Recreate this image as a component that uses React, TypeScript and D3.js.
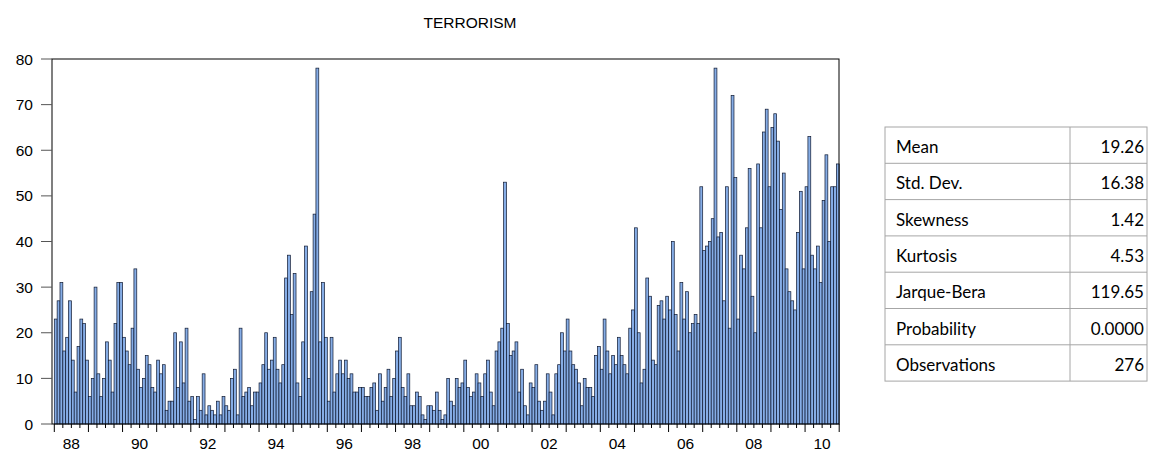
import React from "react";
import * as d3 from "d3";

// Monthly counts, 1988M01 - 2010M12
const counts88to91 = [
  23, 27, 31, 16, 19, 27, 14, 7, 17, 23, 22, 14,
  6, 10, 30, 11, 6, 10, 18, 14, 7, 22, 31, 31,
  19, 16, 13, 21, 34, 12, 8, 10, 15, 13, 8, 7,
  14, 11, 13, 3, 5, 5, 20, 8, 18, 9, 21, 5,
];
const counts92to95 = [
  6, 1, 6, 3, 11, 2, 4, 3, 2, 5, 2, 6,
  4, 3, 10, 12, 2, 21, 6, 7, 8, 4, 7, 7,
  9, 13, 20, 12, 14, 19, 12, 9, 13, 32, 37, 24,
  33, 9, 6, 18, 39, 10, 29, 46, 78, 18, 31, 19,
];
const counts96to99 = [
  5, 19, 7, 11, 14, 11, 14, 10, 11, 7, 7, 8,
  8, 6, 6, 8, 9, 3, 11, 5, 8, 12, 6, 10,
  16, 19, 8, 6, 11, 4, 4, 7, 6, 2, 1, 4,
  4, 3, 7, 3, 1, 2, 10, 5, 4, 10, 8, 9,
];
const counts00to03 = [
  14, 8, 6, 7, 11, 9, 6, 11, 14, 7, 4, 16,
  18, 21, 53, 22, 15, 16, 18, 7, 12, 4, 2, 9,
  8, 13, 5, 3, 5, 11, 7, 2, 11, 13, 20, 16,
  23, 16, 13, 12, 9, 4, 10, 8, 8, 6, 15, 17,
];
const counts04to07 = [
  12, 23, 16, 11, 15, 13, 19, 15, 13, 11, 21, 25,
  43, 20, 9, 12, 32, 28, 14, 13, 26, 27, 23, 28,
  25, 40, 24, 16, 31, 23, 29, 20, 22, 24, 22, 52,
  38, 39, 40, 45, 78, 41, 42, 27, 52, 21, 72, 54,
];
const counts08to10 = [
  23, 37, 34, 43, 56, 28, 20, 57, 43, 64, 69, 52,
  65, 68, 62, 47, 55, 34, 29, 27, 25, 42, 51, 34,
  52, 63, 37, 34, 39, 31, 49, 59, 40, 52, 52, 57,
];

const monthly = [
  ...counts88to91,
  ...counts92to95,
  ...counts96to99,
  ...counts00to03,
  ...counts04to07,
  ...counts08to10,
];

const yearLabels = ["88", "90", "92", "94", "96", "98", "00", "02", "04", "06", "08", "10"];
const yTicks = [0, 10, 20, 30, 40, 50, 60, 70, 80];

const statNames = ["Mean", "Std. Dev.", "Skewness", "Kurtosis", "Jarque-Bera", "Probability", "Observations"];
const statValues = ["19.26", "16.38", "1.42", "4.53", "119.65", "0.0000", "276"];

export default function App() {
  const left = 52;
  const right = 839;
  const top = 59;
  const bottom = 424;

  const x = d3
    .scaleBand<number>()
    .domain(d3.range(monthly.length))
    .range([54.3, 839.2])
    .padding(0);
  const y = d3.scaleLinear().domain([0, 80]).range([bottom, top]);
  const bw = x.bandwidth();
  const xEdge = (i: number) => (i >= monthly.length ? x.range()[1] : (x(i) as number));

  const quarterIdx = d3.range(0, monthly.length + 1, 3);

  // table geometry
  const tL = 885;
  const tR = 1147;
  const tDiv = 1070;
  const tTop = 127;
  const rowH = 36.3;

  const axisFont = "'Liberation Sans', Arial, sans-serif";
  const tableFont = "Lato, 'Open Sans', sans-serif";

  return (
    <svg
      width={1154}
      height={454}
      style={{ position: "absolute", left: 0, top: 0, background: "#fff" }}
    >
      <text x={470} y={28} textAnchor="middle" fontFamily={axisFont} fontSize={15.5}>
        TERRORISM
      </text>

      {/* bars */}
      <g>
        {monthly.map((v, i) => (
          <rect
            key={i}
            x={x(i)}
            y={y(v)}
            width={bw}
            height={bottom - y(v)}
            fill="#86ade6"
            stroke="#0e1830"
            strokeWidth={0.7}
          />
        ))}
      </g>

      {/* frame */}
      <rect x={left} y={top} width={right - left} height={bottom - top} fill="none" stroke="#000" strokeWidth={1} />

      {/* y axis */}
      <g fontFamily={axisFont} fontSize={15.5}>
        {yTicks.map((t) => (
          <g key={t}>
            <line x1={41} x2={left} y1={y(t)} y2={y(t)} stroke="#555" strokeWidth={1} />
            <text x={33} y={y(t) + 5.5} textAnchor="end">
              {t}
            </text>
          </g>
        ))}
      </g>

      {/* x axis */}
      <g>
        {quarterIdx.map((i) => (
          <line
            key={i}
            x1={xEdge(i)}
            x2={xEdge(i)}
            y1={bottom}
            y2={bottom + (i % 12 === 0 ? 8 : 4)}
            stroke="#000"
            strokeWidth={1}
          />
        ))}
        {yearLabels.map((lab, k) => {
          const idx = 2 * k * 12 + 6;
          return (
            <text
              key={lab}
              x={xEdge(idx)}
              y={449}
              textAnchor="middle"
              fontFamily={axisFont}
              fontSize={15.5}
            >
              {lab}
            </text>
          );
        })}
      </g>

      {/* statistics table */}
      <g fontFamily={tableFont} fontSize={17}>
        <rect x={tL} y={tTop} width={tR - tL} height={rowH * statNames.length} fill="#fff" stroke="#a6a6a6" />
        <line x1={tDiv} x2={tDiv} y1={tTop} y2={tTop + rowH * statNames.length} stroke="#a6a6a6" />
        {statNames.map((name, r) => (
          <g key={name}>
            {r > 0 && (
              <line x1={tL} x2={tR} y1={tTop + rowH * r} y2={tTop + rowH * r} stroke="#a6a6a6" />
            )}
            <text x={tL + 11} y={tTop + rowH * r + rowH / 2 + 8}>
              {name}
            </text>
            <text x={tR - 3} y={tTop + rowH * r + rowH / 2 + 8} textAnchor="end">
              {statValues[r]}
            </text>
          </g>
        ))}
      </g>
    </svg>
  );
}
